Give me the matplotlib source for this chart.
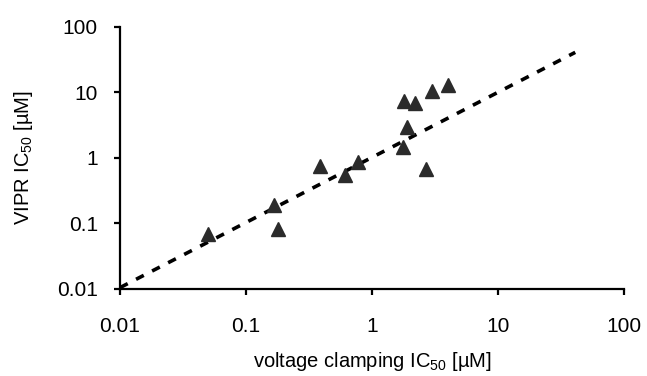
import matplotlib
matplotlib.use("Agg")
import matplotlib.pyplot as plt

# IC50 values (uM)
clamp_ic50 = [0.05, 0.167, 0.18, 0.39, 0.61, 0.77, 1.76, 1.8, 2.19, 1.9, 2.69, 3.0, 4.0]
vipr_ic50 = [0.069, 0.19, 0.082, 0.75, 0.55, 0.87, 1.47, 7.4, 6.9, 2.97, 0.68, 10.5, 13.0]

# trendline end points
trend_x = [0.01, 41.0]
trend_y = [0.0105, 41.0]

ticks = [0.01, 0.1, 1, 10, 100]
tick_labels = ["0.01", "0.1", "1", "10", "100"]

plt.rcParams["font.family"] = ["Liberation Sans", "DejaVu Sans"]
plt.rcParams["mathtext.fontset"] = "custom"
plt.rcParams["mathtext.rm"] = "Liberation Sans"

fig = plt.figure(figsize=(6.47, 3.76), dpi=100)
ax = fig.add_axes([0.1855, 0.2314, 0.779, 0.6968])

ax.plot(trend_x, trend_y, color="black", lw=2.6, dashes=(2.4, 2.6), zorder=2)
ax.plot(clamp_ic50, vipr_ic50, linestyle="none", marker="^", ms=10,
        color="#2b2b2b", zorder=3)

ax.set_xscale("log")
ax.set_yscale("log")
ax.set_xlim(0.01, 100)
ax.set_ylim(0.01, 100)
ax.set_xticks(ticks)
ax.set_xticklabels(tick_labels)
ax.set_yticks(ticks)
ax.set_yticklabels(tick_labels)
ax.minorticks_off()

for side in ["top", "right"]:
    ax.spines[side].set_visible(False)
for side in ["left", "bottom"]:
    ax.spines[side].set_linewidth(1.6)

ax.tick_params(axis="both", direction="out", length=4, width=1.6, labelsize=15)
ax.tick_params(axis="x", pad=16)
ax.tick_params(axis="y", pad=12)

ax.set_xlabel(r"voltage clamping IC$_{\mathrm{50}}$ [µM]", fontsize=14.5, labelpad=10)
ax.set_ylabel(r"VIPR IC$_{\mathrm{50}}$ [µM]", fontsize=14.5, labelpad=16)

fig.savefig("out.png", dpi=100)
